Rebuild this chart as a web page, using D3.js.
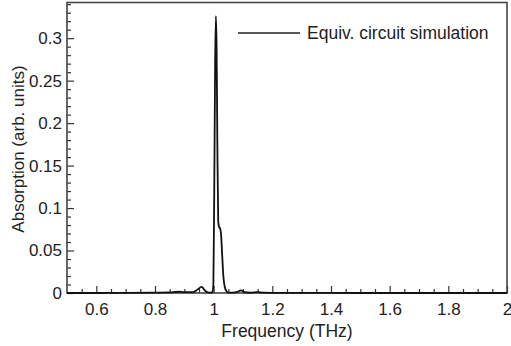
<!DOCTYPE html>
<html>
<head>
<meta charset="utf-8">
<script src="https://cdn.jsdelivr.net/npm/d3@7"></script>
<style>
  body { margin: 0; background: #fff; }
  text { font-family: "Liberation Sans", Arial, sans-serif; fill: #222; }
</style>
</head>
<body>
<div id="container"></div>
<script>
/* CONSTANTS AND GLOBALS */
const width = 511,
  height = 346,
  margin = { top: 2.5, right: 4, bottom: 53, left: 67 };

/* DATA */
const freq = [0.5, 0.6, 0.7, 0.8, 0.85, 0.88, 0.9, 0.93, 0.945, 0.959, 0.97, 0.98,
  0.99, 0.996, 0.999, 1.002, 1.005, 1.0075, 1.010, 1.0125, 1.0155, 1.018, 1.022,
  1.025, 1.029, 1.033, 1.038, 1.044, 1.05, 1.065, 1.08, 1.093, 1.105, 1.125, 1.15,
  1.17, 1.2, 1.3, 1.5, 1.75, 2.0];
const absorption = [0, 0, 0.0002, 0.0005, 0.0008, 0.0015, 0.001, 0.001, 0.004, 0.0072, 0.003, 0.0008,
  0.0005, 0.001, 0.01, 0.12, 0.27, 0.326, 0.29, 0.18, 0.085, 0.078, 0.076,
  0.07, 0.045, 0.02, 0.007, 0.002, 0.0005, 0.0004, 0.0012, 0.0032, 0.001, 0.0004, 0.001,
  0.0004, 0.0002, 0.0001, 0, 0, 0];
const xTicks = [0.6, 0.8, 1, 1.2, 1.4, 1.6, 1.8, 2];
const yTicks = [0, 0.05, 0.1, 0.15, 0.2, 0.25, 0.3];
const legendLabel = "Equiv. circuit simulation";

const data = freq.map((f, i) => ({ f: f, a: absorption[i] }));

const svg = d3.select("#container")
  .append("svg")
  .attr("width", width)
  .attr("height", height);

/* SCALES */
const xScale = d3.scaleLinear()
  .domain([0.5, 2])
  .range([margin.left, width - margin.right]);

const yScale = d3.scaleLinear()
  .domain([0, 0.342])
  .range([height - margin.bottom, margin.top]);

// minor ticks
const xMinor = d3.range(0.55, 2.0001, 0.05).filter(v => !xTicks.some(t => Math.abs(t - v) < 1e-6));
const yMinor = d3.range(0.01, 0.341, 0.01).filter(v => !yTicks.some(t => Math.abs(t - v) < 1e-6));

svg.append("g")
  .attr("class", "x-minor")
  .attr("transform", `translate(0,${height - margin.bottom})`)
  .call(d3.axisBottom(xScale).tickValues(xMinor).tickSize(-4).tickFormat(""))
  .call(g => g.select(".domain").remove());

svg.append("g")
  .attr("class", "y-minor")
  .attr("transform", `translate(${margin.left},0)`)
  .call(d3.axisLeft(yScale).tickValues(yMinor).tickSize(-4).tickFormat(""))
  .call(g => g.select(".domain").remove());

svg.append("g")
  .attr("class", "x-axis")
  .attr("transform", `translate(0,${height - margin.bottom})`)
  .call(d3.axisBottom(xScale).tickValues(xTicks).tickSize(-7).tickPadding(10).tickFormat(d3.format("")))
  .call(g => g.select(".domain").remove())
  .selectAll("text").style("font-size", "17px");

svg.append("g")
  .attr("class", "y-axis")
  .attr("transform", `translate(${margin.left},0)`)
  .call(d3.axisLeft(yScale).tickValues(yTicks).tickSize(-7).tickPadding(5).tickFormat(d3.format("")))
  .call(g => g.select(".domain").remove())
  .selectAll("text").style("font-size", "17px");

svg.selectAll(".tick line").attr("stroke", "#333").attr("stroke-width", 1.2);

// frame
svg.append("rect")
  .attr("x", margin.left)
  .attr("y", margin.top)
  .attr("width", width - margin.right - margin.left)
  .attr("height", height - margin.bottom - margin.top)
  .attr("fill", "none")
  .attr("stroke", "#444")
  .attr("stroke-width", 1.6);

// curve
const line = d3.line()
  .x(d => xScale(d.f))
  .y(d => yScale(d.a))
  .curve(d3.curveMonotoneX);

svg.append("path")
  .datum(data)
  .attr("fill", "none")
  .attr("stroke", "#111")
  .attr("stroke-width", 1.8)
  .attr("d", line);

// legend
svg.append("line")
  .attr("x1", 238).attr("x2", 300)
  .attr("y1", 33).attr("y2", 33)
  .attr("stroke", "#222")
  .attr("stroke-width", 1.6);

svg.append("text")
  .attr("x", 307)
  .attr("y", 39)
  .style("font-size", "17.5px")
  .text(legendLabel);

// x axis title
svg.append("text")
  .attr("text-anchor", "middle")
  .attr("x", 287)
  .attr("y", 337)
  .style("font-size", "17.5px")
  .text("Frequency (THz)");

// y axis title
svg.append("text")
  .attr("text-anchor", "middle")
  .attr("transform", "rotate(-90)")
  .attr("x", -149)
  .attr("y", 24)
  .style("font-size", "17px")
  .text("Absorption (arb. units)");
</script>
</body>
</html>
